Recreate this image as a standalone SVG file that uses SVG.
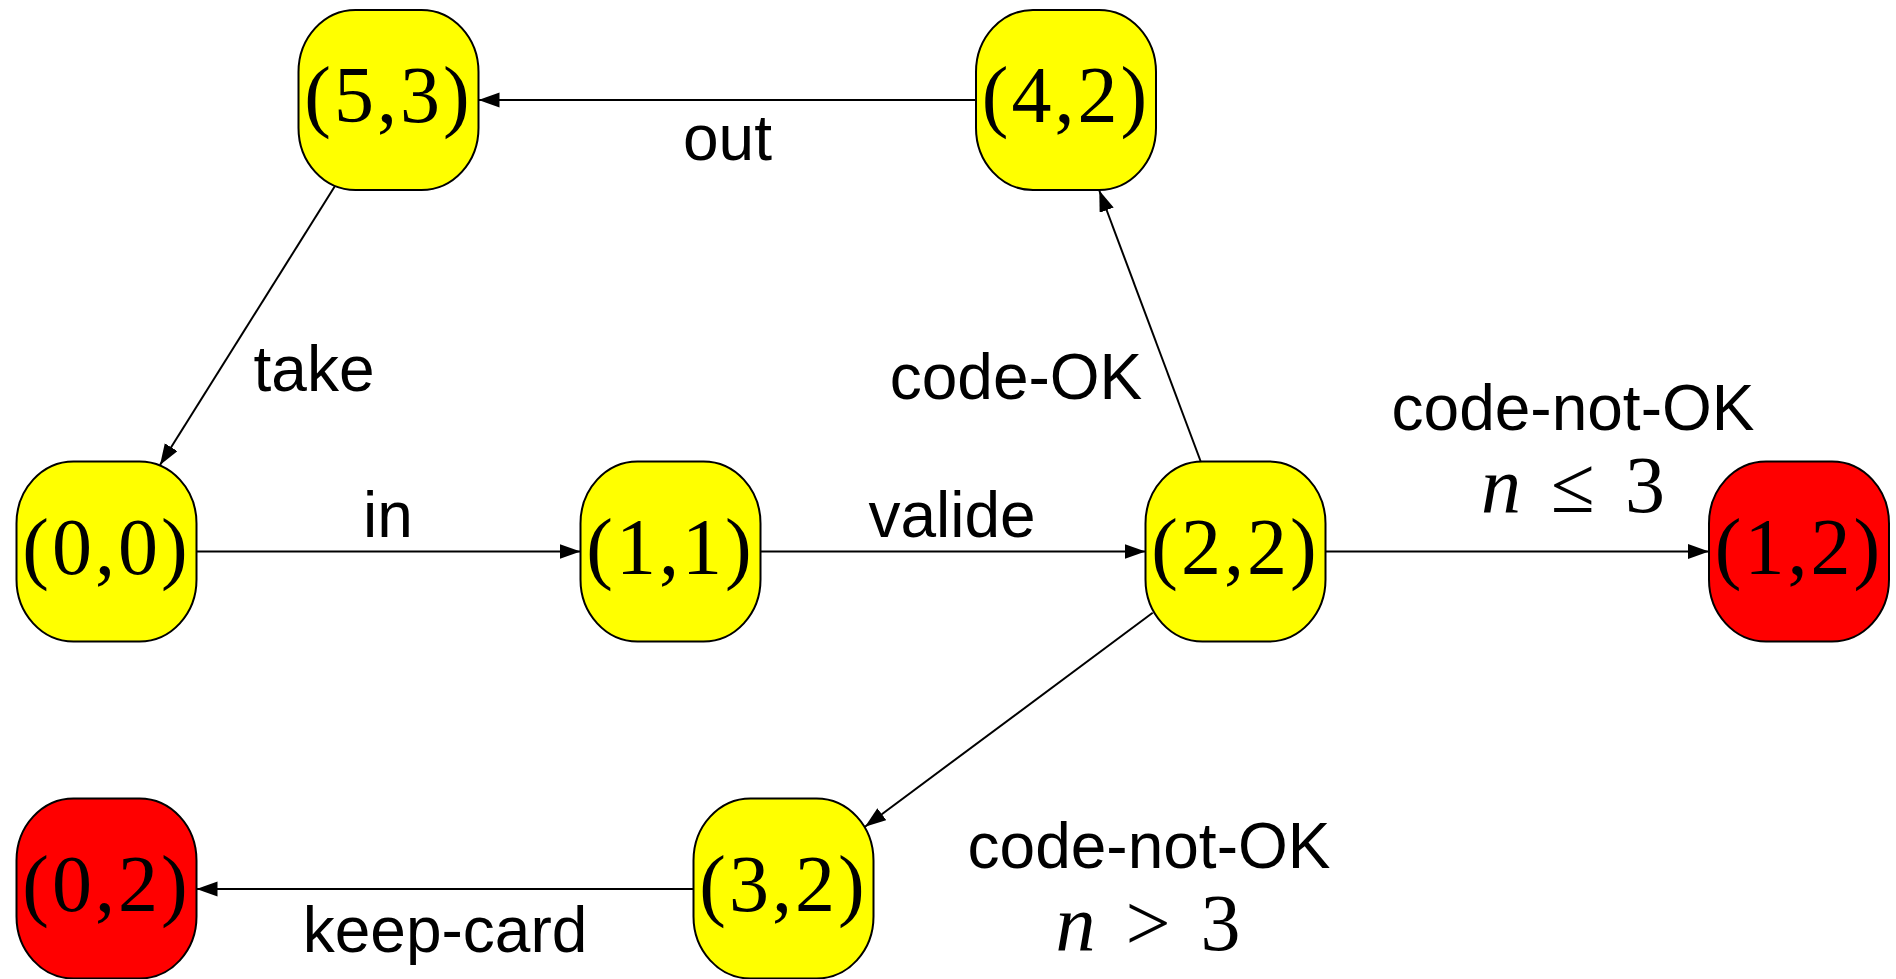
<svg xmlns="http://www.w3.org/2000/svg" width="1896" height="979" viewBox="0 0 1896 979">
<style>
.node rect{stroke:#000;stroke-width:2}
.ok rect{fill:#ffff00}
.bad rect{fill:#ff0000}
.node text{font-family:"Liberation Serif","Times New Roman",serif;font-size:80px;text-anchor:middle;letter-spacing:3px;fill:#000}
.edges line{stroke:#000;stroke-width:2;fill:none}
.lbl{font-family:"Liberation Sans",Arial,sans-serif;font-size:64px;text-anchor:middle;fill:#000}
.math{font-family:"Liberation Serif","Times New Roman",serif;font-size:80px;text-anchor:middle;word-spacing:10px;fill:#000}
</style>
<defs>
<marker id="arr" markerUnits="userSpaceOnUse" markerWidth="22" markerHeight="16" refX="21" refY="7.5" orient="auto">
<path d="M0,0 L21,7.5 L0,15 z" fill="#000"/>
</marker>
</defs>
<rect width="1896" height="979" fill="#fff"/>
<g id="connectors" class="edges">
<line id="e-out" x1="975.5" y1="100" x2="478.5" y2="100" marker-end="url(#arr)"/>
<line id="e-take" x1="335" y1="186" x2="160" y2="465" marker-end="url(#arr)"/>
<line id="e-in" x1="196.5" y1="551.5" x2="580.5" y2="551.5" marker-end="url(#arr)"/>
<line id="e-valide" x1="760.5" y1="551.5" x2="1145.5" y2="551.5" marker-end="url(#arr)"/>
<line id="e-codeok" x1="1200.7" y1="461.5" x2="1099.3" y2="190.5" marker-end="url(#arr)"/>
<line id="e-notok1" x1="1325.5" y1="551.5" x2="1709" y2="551.5" marker-end="url(#arr)"/>
<line id="e-notok2" x1="1152.7" y1="612.7" x2="865" y2="826.7" marker-end="url(#arr)"/>
<line id="e-keep" x1="693.5" y1="889" x2="196.5" y2="889" marker-end="url(#arr)"/>
</g>
<g id="labels">
<text class="lbl" x="727.5" y="160">out</text>
<text class="lbl" x="314" y="391">take</text>
<text class="lbl" x="388" y="537">in</text>
<text class="lbl" x="952" y="537">valide</text>
<text class="lbl" x="1016" y="399">code-OK</text>
<text class="lbl" x="1573" y="430">code-not-OK</text>
<text class="math" x="1573" y="512"><tspan font-style="italic">n</tspan> ≤ 3</text>
<text class="lbl" x="1149" y="868">code-not-OK</text>
<text class="math" x="1148" y="950"><tspan font-style="italic">n</tspan> &gt; 3</text>
<text class="lbl" x="445" y="951.5">keep-card</text>
</g>
<g id="n53" class="node ok"><rect x="298.5" y="10" width="180" height="180" rx="57" ry="62"/><text x="388.5" y="122">(5,3)</text></g>
<g id="n42" class="node ok"><rect x="976" y="10" width="180" height="180" rx="57" ry="62"/><text x="1066" y="122">(4,2)</text></g>
<g id="n00" class="node ok"><rect x="16.5" y="461.5" width="180" height="180" rx="57" ry="62"/><text x="106.5" y="573.5">(0,0)</text></g>
<g id="n11" class="node ok"><rect x="580.5" y="461.5" width="180" height="180" rx="57" ry="62"/><text x="670.5" y="573.5">(1,1)</text></g>
<g id="n22" class="node ok"><rect x="1145.5" y="461.5" width="180" height="180" rx="57" ry="62"/><text x="1235.5" y="573.5">(2,2)</text></g>
<g id="n12" class="node bad"><rect x="1709" y="461.5" width="180" height="180" rx="57" ry="62"/><text x="1799" y="573.5">(1,2)</text></g>
<g id="n32" class="node ok"><rect x="693.5" y="798.5" width="180" height="180" rx="57" ry="62"/><text x="783.5" y="910.5">(3,2)</text></g>
<g id="n02" class="node bad"><rect x="16.5" y="798.5" width="180" height="180" rx="57" ry="62"/><text x="106.5" y="910.5">(0,2)</text></g>
</svg>
